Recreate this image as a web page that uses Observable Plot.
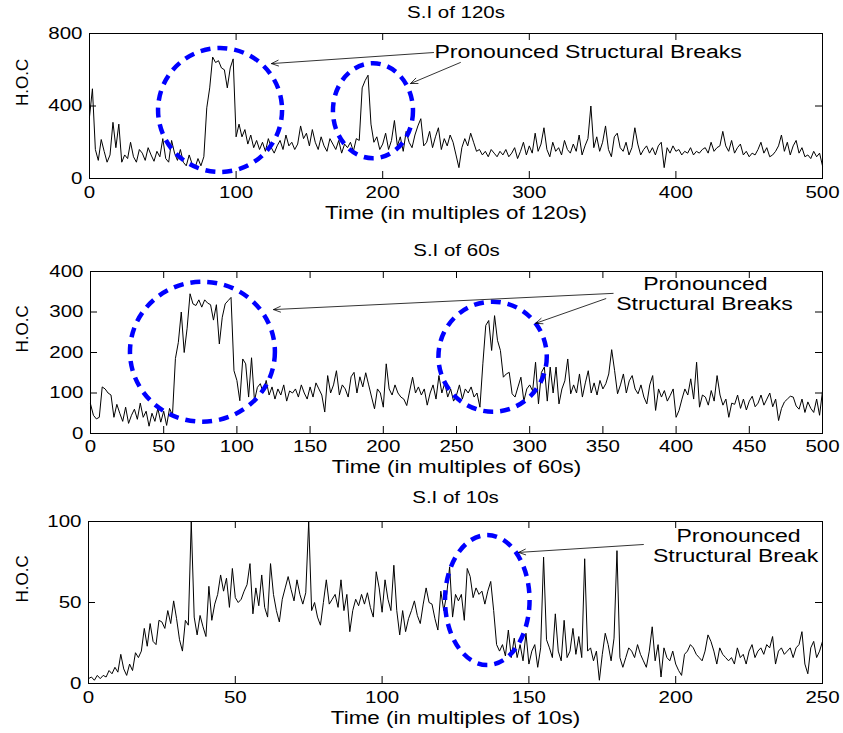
<!DOCTYPE html>
<html><head><meta charset="utf-8">
<script src="https://cdn.jsdelivr.net/npm/d3@7"></script>
<script src="https://cdn.jsdelivr.net/npm/@observablehq/plot@0.6"></script>
<style>
body{margin:0;background:#fff;}
#wrap{position:relative;width:843px;height:733px;background:#fff;}
#wrap svg{position:absolute;left:0;}
</style></head><body><div id="wrap"></div>
<script>
// ---------- Panel 1: S.I of 120s (sampled every 2 units, t = 0..500) ----------
const p1Step = 2;
const p1Values = [
  340, 495, 160, 100, 215, 150, 90, 130, 310, 170,
  300, 90, 130, 110, 200, 120, 90, 160, 140, 100,
  170, 130, 95, 150, 120, 220, 110, 90, 210, 140,
  100, 160, 90, 70, 130, 80, 60, 110, 70, 120,
  390, 500, 670, 640, 650, 610, 600, 500, 610, 660,
  230, 300, 230, 270, 190, 240, 170, 210, 160, 200,
  150, 220, 170, 140, 180, 210, 160, 240, 180, 200,
  160, 190, 290, 220, 250, 180, 270, 200, 160, 230,
  180, 150, 220, 190, 160, 210, 140, 190, 170, 200,
  150, 220, 210, 500, 540, 570, 300, 200, 230, 160,
  190, 250, 160, 210, 320, 180, 230, 150, 260, 200,
  170, 240, 290, 330, 180, 200, 260, 170, 230, 280,
  160, 220, 180, 240, 200, 130, 60, 170, 220, 180,
  250, 200, 150, 160, 130, 150, 120, 160, 140, 120,
  150, 130, 160, 120, 140, 170, 110, 150, 200, 130,
  180, 140, 250, 150, 190, 280, 160, 120, 200, 150,
  170, 130, 210, 160, 140, 190, 150, 240, 130, 180,
  220, 400, 170, 230, 150, 200, 290, 160, 120, 230,
  250, 170, 150, 200, 130, 170, 280, 190, 130, 160,
  180, 140, 170, 130, 180, 200, 60, 170, 140, 180,
  150, 160, 130, 150, 140, 170, 130, 150, 140, 160,
  170, 140, 200, 150, 170, 180, 260, 180, 150, 210,
  140, 170, 190, 130, 150, 120, 140, 130, 160, 200,
  140, 170, 120, 130, 150, 180, 240, 150, 200, 130,
  180, 210, 140, 170, 120, 130, 110, 150, 120, 140,
  70
];
const p1XTicks = [0, 100, 200, 300, 400, 500];
const p1YTicks = [0, 400, 800];
const p1Title = "S.I of 120s";
const p1XLabel = "Time (in multiples of 120s)";
// annotation ellipses (data units)
const p1EllCx = [89.4, 193.7], p1EllCy = [375, 371], p1EllRx = [42.3, 27.3], p1EllRy = [342, 262];
// arrows
const p1ArrX1 = [234.7, 253], p1ArrY1 = [695, 640], p1ArrX2 = [124.1, 219], p1ArrY2 = [634, 524];
const p1Notes = ["Pronounced Structural Breaks"], p1NoteX = [235.3], p1NoteY = [695];

// ---------- Panel 2: S.I of 60s (sampled every 2 units, t = 0..500) ----------
const p2Step = 2;
const p2Values = [
  73, 45, 36, 40, 115, 110, 100, 95, 40, 72,
  50, 30, 65, 25, 45, 60, 35, 75, 40, 55,
  18, 50, 30, 62, 28, 55, 20, 62, 45, 185,
  225, 300, 200, 260, 345, 320, 316, 330, 312, 330,
  322, 318, 280, 318, 221, 287, 320, 328, 336, 155,
  131, 81, 184, 172, 90, 187, 81, 114, 123, 100,
  131, 95, 115, 85, 110, 95, 120, 80, 105, 100,
  110, 90, 120, 100, 85, 115, 90, 125, 110, 95,
  53, 143, 100, 120, 155, 95, 120, 110, 90, 140,
  151, 100, 140, 115, 150, 120, 90, 61, 110, 100,
  65, 172, 110, 95, 120, 100, 90, 85, 69, 105,
  139, 100, 115, 95, 110, 70, 100, 120, 85, 143,
  100, 125, 90, 110, 80, 95, 120, 85, 110, 100,
  115, 90, 100, 65, 172, 267, 279, 205, 291, 230,
  205, 139, 147, 151, 98, 90, 115, 139, 80, 110,
  120, 105, 176, 73, 151, 164, 80, 164, 100, 164,
  73, 110, 130, 184, 98, 120, 100, 147, 90, 125,
  155, 100, 125, 95, 131, 110, 123, 147, 207, 155,
  98, 120, 147, 100, 130, 143, 110, 98, 120, 90,
  73, 120, 143, 57, 110, 90, 106, 80, 94, 110,
  40, 57, 85, 110, 95, 135, 85, 176, 65, 95,
  90, 70, 106, 80, 143, 95, 70, 85, 40, 75,
  72, 95, 62, 85, 58, 80, 92, 66, 75, 95,
  70, 85, 100, 66, 85, 32, 62, 78, 85, 92,
  90, 68, 60, 85, 52, 78, 62, 52, 85, 45,
  105
];
const p2XTicks = [0, 50, 100, 150, 200, 250, 300, 350, 400, 450, 500];
const p2YTicks = [0, 100, 200, 300, 400];
const p2Title = "S.I of 60s";
const p2XLabel = "Time (in multiples of 60s)";
const p2EllCx = [76.8, 275], p2EllCy = [200.7, 188.4], p2EllRx = [49.5, 37], p2EllRy = [172.8, 135.8];
const p2ArrX1 = [357, 352], p2ArrY1 = [346, 333], p2ArrX2 = [125, 304], p2ArrY2 = [306, 272];
const p2Notes = ["Pronounced", "Structural Breaks"], p2NoteX = [420, 419.4], p2NoteY = [368, 319];

// ---------- Panel 3: S.I of 10s (every unit, t = 0..250) ----------
const p3Step = 1;
const p3Values = [
  3, 4, 2, 5, 3, 5, 4, 8, 6, 10,
  7, 18, 9, 5, 12, 8, 19, 16, 20, 34,
  23, 37, 26, 24, 39, 38, 34, 45, 37, 51,
  40, 27, 20, 39, 36, 100, 41, 30, 42, 35,
  29, 60, 39, 49, 55, 67, 57, 65, 47, 71,
  53, 50, 52, 57, 61, 74, 43, 59, 48, 67,
  47, 41, 74, 55, 45, 38, 52, 59, 66, 58,
  51, 64, 55, 49, 56, 100, 45, 50, 41, 36,
  50, 64, 49, 52, 55, 47, 64, 45, 55, 32,
  45, 52, 48, 55, 49, 56, 47, 41, 69, 59,
  44, 64, 52, 45, 73, 45, 30, 45, 32, 40,
  45, 51, 42, 37, 49, 59, 50, 49, 40, 33,
  57, 45, 55, 72, 41, 55, 51, 55, 39, 71,
  66, 53, 59, 55, 57, 49, 57, 63, 45, 24,
  20, 24, 17, 33, 16, 28, 16, 24, 14, 31,
  12, 20, 24, 10, 22, 78, 27, 22, 16, 43,
  20, 14, 39, 16, 20, 34, 18, 29, 16, 77,
  20, 22, 14, 20, 2, 18, 31, 24, 14, 28,
  82, 16, 10, 16, 22, 20, 16, 24, 18, 14,
  10, 20, 35, 14, 24, 4, 22, 16, 14, 20,
  12, 8, 5, 18, 20, 24, 22, 18, 16, 14,
  20, 30, 26, 20, 12, 22, 18, 16, 14, 16,
  12, 22, 16, 18, 12, 20, 24, 16, 20, 22,
  18, 24, 22, 29, 12, 20, 22, 18, 20, 22,
  16, 22, 24, 32, 12, 6, 22, 26, 16, 20,
  26
];
const p3XTicks = [0, 50, 100, 150, 200, 250];
const p3YTicks = [0, 50, 100];
const p3Title = "S.I of 10s";
const p3XLabel = "Time (in multiples of 10s)";
const p3EllCx = [136], p3EllCy = [51.2], p3EllRx = [14.4], p3EllRy = [40.1];
const p3ArrX1 = [189], p3ArrY1 = [85.8], p3ArrX2 = [146.5], p3ArrY2 = [80.9];
const p3Notes = ["Pronounced", "Structural Break"], p3NoteX = [221.4, 220.4], p3NoteY = [90.7, 78.4];

const yLabel = "H.O.C";
const FONT = "'Liberation Sans', Arial, sans-serif";

function ellipseMark(cx, cy, rx, ry) {
  return (index, scales) => {
    const g = d3.create("svg:g");
    cx.forEach((c, i) => {
      const px = scales.x(c), py = scales.y(cy[i]);
      const prx = Math.abs(scales.x(c + rx[i]) - px);
      const pry = Math.abs(scales.y(cy[i] + ry[i]) - py);
      g.append("ellipse")
        .attr("cx", px).attr("cy", py).attr("rx", prx).attr("ry", pry)
        .attr("fill", "none").attr("stroke", "#0000ff")
        .attr("stroke-width", 4.5).attr("stroke-dasharray", "10,7");
    });
    return g.node();
  };
}

function makePanel(p) {
  const W = 843;
  const data = p.values.map((v, i) => ({t: i * p.step, v}));
  const pw = W - p.ml - p.mr, ph = p.height - p.mt - p.mb;
  const arrows = p.ax1.map((d, i) => ({x1: d, y1: p.ay1[i], x2: p.ax2[i], y2: p.ay2[i]}));
  const notes = p.notes.map((s, i) => ({s, x: p.nx[i], y: p.ny[i]}));
  const chart = Plot.plot({
    width: W, height: p.height,
    marginTop: p.mt, marginBottom: p.mb, marginLeft: p.ml, marginRight: p.mr,
    style: {fontFamily: FONT, fontSize: "16px", background: "white", overflow: "visible", color: "black"},
    x: {domain: p.xDomain},
    y: {domain: p.yDomain},
    marks: [
      Plot.line(data, {x: "t", y: "v", stroke: "black", strokeWidth: 1}),
      ellipseMark(p.ecx, p.ecy, p.erx, p.ery),
      Plot.frame({stroke: "black", strokeWidth: 1}),
      Plot.ruleX(p.xTicks, {insetTop: ph - 7, stroke: "black"}),
      Plot.ruleX(p.xTicks, {insetBottom: ph - 7, stroke: "black"}),
      Plot.ruleY(p.yTicks, {insetRight: pw - 7, stroke: "black"}),
      Plot.ruleY(p.yTicks, {insetLeft: pw - 7, stroke: "black"}),
      Plot.axisX(p.xTicks, {tickSize: 0, tickPadding: p.xPad, label: null, fill: "black"}),
      Plot.axisY(p.yTicks, {tickSize: 0, tickPadding: 7, label: null, fill: "black"}),
      Plot.arrow(arrows, {x1: "x1", y1: "y1", x2: "x2", y2: "y2", stroke: "black", strokeWidth: 0.8, headLength: 14, headAngle: 45}),
      Plot.text(notes, {x: "x", y: "y", text: "s", textAnchor: p.noteAnchor, fontSize: 18, fill: "black"}),
      Plot.text([p.title], {frameAnchor: "top", lineAnchor: "middle", dy: p.titleDy, fontSize: 16, fill: "black"}),
      Plot.text([p.xLabel], {frameAnchor: "bottom", lineAnchor: "middle", dy: p.xLabelDy, fontSize: 17.5, fill: "black"}),
      Plot.text([yLabel], {frameAnchor: "left", dx: p.yLabelDx, rotate: -90, fontSize: 17, fill: "black"})
    ]
  });
  chart.style.top = p.top + "px";
  return chart;
}

const wrap = document.getElementById("wrap");
wrap.appendChild(makePanel({
  top: 0, height: 240, mt: 33, mb: 62, ml: 89, mr: 21,
  values: p1Values, step: p1Step, xDomain: [0, 500], yDomain: [0, 800],
  xTicks: p1XTicks, yTicks: p1YTicks, xPad: 8,
  ecx: p1EllCx, ecy: p1EllCy, erx: p1EllRx, ery: p1EllRy,
  ax1: p1ArrX1, ay1: p1ArrY1, ax2: p1ArrX2, ay2: p1ArrY2,
  notes: p1Notes, nx: p1NoteX, ny: p1NoteY, noteAnchor: "start",
  title: p1Title, titleDy: -21, xLabel: p1XLabel, xLabelDy: 35, yLabelDx: -67
}));
wrap.appendChild(makePanel({
  top: 240, height: 243, mt: 31, mb: 50, ml: 90, mr: 21,
  values: p2Values, step: p2Step, xDomain: [0, 500], yDomain: [0, 400],
  xTicks: p2XTicks, yTicks: p2YTicks, xPad: 7,
  ecx: p2EllCx, ecy: p2EllCy, erx: p2EllRx, ery: p2EllRy,
  ax1: p2ArrX1, ay1: p2ArrY1, ax2: p2ArrX2, ay2: p2ArrY2,
  notes: p2Notes, nx: p2NoteX, ny: p2NoteY, noteAnchor: "middle",
  title: p2Title, titleDy: -21, xLabel: p2XLabel, xLabelDy: 34, yLabelDx: -68
}));
wrap.appendChild(makePanel({
  top: 483, height: 250, mt: 38, mb: 50, ml: 88, mr: 21,
  values: p3Values, step: p3Step, xDomain: [0, 250], yDomain: [0, 100],
  xTicks: p3XTicks, yTicks: p3YTicks, xPad: 8,
  ecx: p3EllCx, ecy: p3EllCy, erx: p3EllRx, ery: p3EllRy,
  ax1: p3ArrX1, ay1: p3ArrY1, ax2: p3ArrX2, ay2: p3ArrY2,
  notes: p3Notes, nx: p3NoteX, ny: p3NoteY, noteAnchor: "middle",
  title: p3Title, titleDy: -24, xLabel: p3XLabel, xLabelDy: 35, yLabelDx: -66
}));

// the reference's lettering is horizontally widened; stretch glyphs accordingly
const STRETCH = 1.28;
wrap.querySelectorAll("svg text").forEach(t => {
  const tr = t.getAttribute("transform") || "";
  if (tr.includes("rotate")) return;
  const L = t.getComputedTextLength();
  if (L > 0) {
    t.setAttribute("textLength", (L * STRETCH).toFixed(1));
    t.setAttribute("lengthAdjust", "spacingAndGlyphs");
  }
});
</script>
</body></html>
